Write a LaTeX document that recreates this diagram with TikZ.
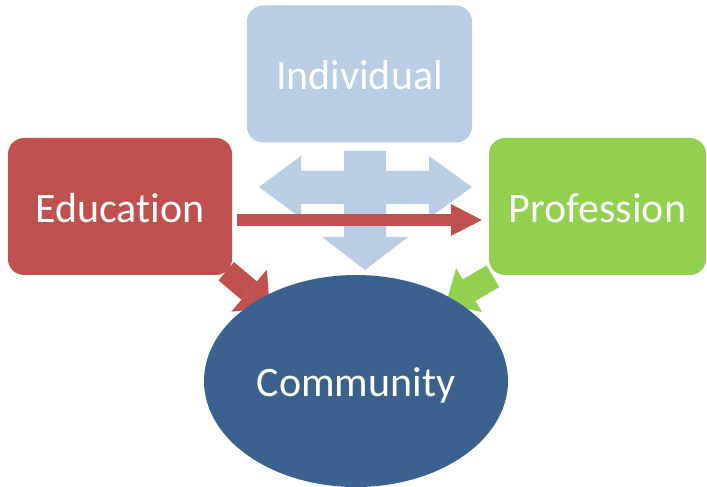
\documentclass[tikz,border=0pt]{standalone}
\usepackage{fontspec}
\setmainfont{Carlito}[Ligatures={NoCommon,NoContextual},Contextuals=NoAlternate]
\usetikzlibrary{arrows.meta,shapes.geometric}
\definecolor{indblue}{HTML}{B9CDE5}
\definecolor{edured}{HTML}{C0504D}
\definecolor{profgreen}{HTML}{92D050}
\definecolor{commblue}{HTML}{3B618E}
\pgfdeclarelayer{back}
\pgfsetlayers{back,main}
\tikzset{
  txt/.style={text=white, font=\fontsize{42pt}{42pt}\selectfont, text height=32pt, text depth=0pt},
  box/.style={txt, rounded corners=16pt, minimum height=137pt},
  fatarrow/.style n args={4}{draw=#1, line width=#2, -{Triangle[length=#3, width=#4, line width=0pt]}}
}
\begin{document}
\begin{tikzpicture}[x=1pt,y=1pt]
      \useasboundingbox (0,0) rectangle (707,487);
      \node[box, fill=indblue, minimum width=225pt] (ind) at (359.5,413) {Individual};
      \node[box, fill=edured, minimum width=224pt] (edu) at (120,280.5) {Educat\kern0pt ion};
      \node[box, fill=profgreen, minimum width=217pt] (prof) at (597.5,280.5) {Profession};
      \node[txt, ellipse, fill=commblue, minimum width=304pt, minimum height=212pt] (comm) at (356,106) {Community};
      \coordinate (hub) at (365,300);
      \begin{pgfonlayer}{back}
      \begin{scope}[shift={(hub)}]
      \fill[indblue] (-21,36) -- (21,36) -- (21,16) -- (64,16) -- (64,31) -- (107,0) -- (64,-31)
        -- (64,-17) -- (21,-17) -- (21,-50) -- (43,-50) -- (0,-83) -- (-43,-50) -- (-21,-50)
        -- (-21,-17) -- (-64,-17) -- (-64,-31) -- (-106,0) -- (-64,31) -- (-64,16) -- (-21,16) -- cycle;
      \end{scope}
      \draw[fatarrow={edured}{24pt}{27pt}{55pt}, shorten >=113pt] ([shift={(-6pt,4pt)}]edu.south east) -- (comm.center);
      \draw[fatarrow={profgreen}{25pt}{27pt}{51pt}, shorten >=151pt] ([shift={(4pt,-1pt)}]prof.south west) -- ([xshift=-40pt]comm.center);
      \end{pgfonlayer}
      \draw[fatarrow={edured}{12pt}{31pt}{32pt}, shorten <=5pt, shorten >=7pt] ([yshift=-13.5pt]edu.east) -- ([yshift=-13.5pt]prof.west);
    \end{tikzpicture}
\end{document}
